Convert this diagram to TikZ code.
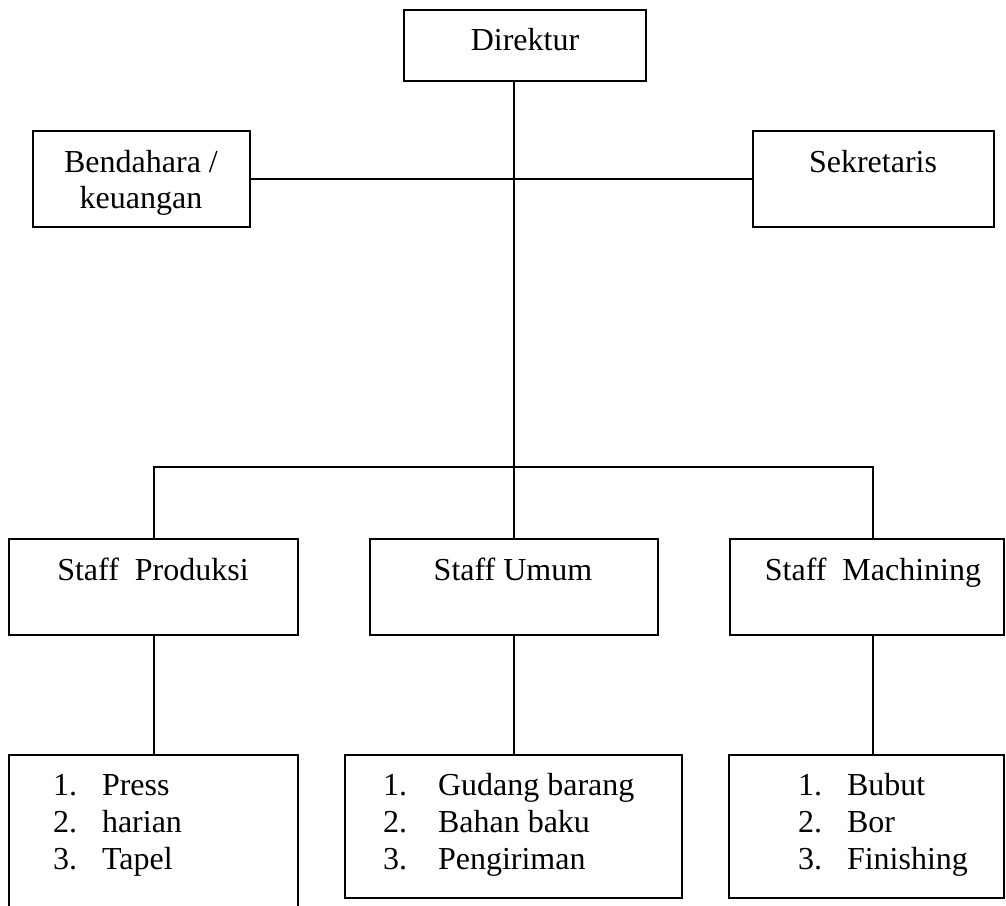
\documentclass[tikz,border=0pt]{standalone}
\usepackage{fontspec}
\setmainfont{Liberation Serif}
\begin{document}
\begin{tikzpicture}[x=1pt,y=-1pt,
  box/.style={draw, line width=1.4pt, inner sep=0pt, outer sep=0pt},
  conn/.style={line width=1.4pt},
  lbl/.style={inner sep=0pt, outer sep=0pt, font=\fontsize{32}{36}\selectfont, anchor=base},
  itm/.style={lbl, anchor=base west}]
\useasboundingbox (0,0) rectangle (1006,905);
% boxes
\node[box, minimum width=242pt, minimum height=71pt] (dir) at (525,45.5) {};
\node[box, minimum width=217pt, minimum height=96pt] (bend) at (141.5,179) {};
\node[box, minimum width=241pt, minimum height=96pt] (sek) at (873.5,179) {};
\node[box, minimum width=289pt, minimum height=96pt] (sp) at (153.5,587) {};
\node[box, minimum width=288pt, minimum height=96pt] (su) at (514,587) {};
\node[box, minimum width=274pt, minimum height=96pt] (sm) at (867,587) {};
\node[box, minimum width=289pt, minimum height=180pt] (pl) at (153.5,845) {};
\node[box, minimum width=337pt, minimum height=143pt] (ul) at (513.5,826.5) {};
\node[box, minimum width=275pt, minimum height=143pt] (ml) at (866.5,826.5) {};
% joints
\coordinate (jc) at (514,467);
\coordinate (jl) at (154,467);
\coordinate (jr) at (873,467);
% connectors
\draw[conn] (dir.south -| jc) -- (jc) -- (jc |- su.north);
\draw[conn] (bend.east) -- (sek.west);
\draw[conn] (jl |- sp.north) -- (jl) -- (jr) -- (jr |- sm.north);
\draw[conn] (sp.south -| jl) -- (pl.north -| jl);
\draw[conn] (su.south -| jc) -- (ul.north -| jc);
\draw[conn] (sm.south -| jr) -- (ml.north -| jr);
% labels
\node[lbl] (tdir) at (525,50) {Direktur};
\node[lbl] (tbend1) at (141,172) {Bendahara /};
\node[lbl] (tbend2) at (141,208) {keuangan};
\node[lbl] (tsek) at (873,172) {Sekretaris};
\node[lbl] (tsp) at (153,580) {Staff\ \ Produksi};
\node[lbl] (tsu) at (513,580) {Staff Umum};
\node[lbl] (tsm) at (873,580) {Staff\ \ Machining};
% list Produksi
\node[itm] (pn1) at (53,795) {1.};
\node[itm] (pt1) at (102,795) {Press};
\node[itm] (pn2) at (53,832) {2.};
\node[itm] (pt2) at (102,832) {harian};
\node[itm] (pn3) at (53,869) {3.};
\node[itm] (pt3) at (102,869) {Tapel};
% list Umum
\node[itm] (un1) at (383,795) {1.};
\node[itm] (ut1) at (438,795) {Gudang barang};
\node[itm] (un2) at (383,832) {2.};
\node[itm] (ut2) at (438,832) {Bahan baku};
\node[itm] (un3) at (383,869) {3.};
\node[itm] (ut3) at (438,869) {Pengiriman};
% list Machining
\node[itm] (mn1) at (798,795) {1.};
\node[itm] (mt1) at (847,795) {Bubut};
\node[itm] (mn2) at (798,832) {2.};
\node[itm] (mt2) at (847,832) {Bor};
\node[itm] (mn3) at (798,869) {3.};
\node[itm] (mt3) at (847,869) {Finishing};
\end{tikzpicture}
\end{document}
